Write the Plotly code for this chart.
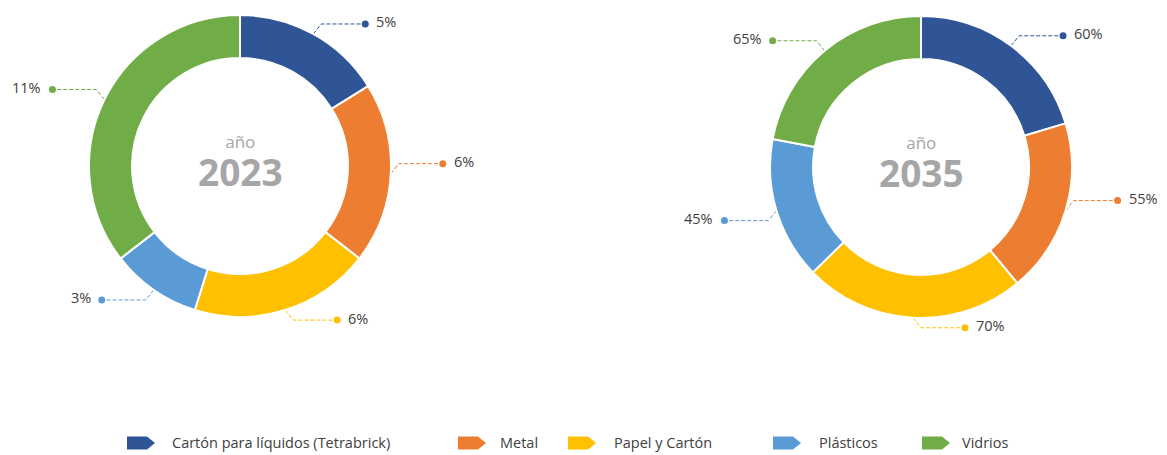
import math
import plotly.graph_objects as go

# ---- data ----
categories = ["Cartón para líquidos (Tetrabrick)", "Metal", "Papel y Cartón", "Plásticos", "Vidrios"]
values_2023 = [5, 6, 6, 3, 11]
values_2035 = [60, 55, 70, 45, 65]
years = ["2023", "2035"]

# ---- style ----
colors = ["#2F5597", "#ED7D31", "#FFC000", "#5B9BD5", "#70AD47"]
W, H = 1167, 455
FONT = "Open Sans"
TXT = "#404040"
GRAY = "#A6A6A6"

# donut geometry in pixels (center x, center y, radius)
donuts = [(240, 166, 151), (921, 167, 151)]
HOLE = 0.715

fig = go.Figure()

# hidden pixel-space axes for leader lines / legend
fig.update_layout(
    xaxis=dict(range=[0, W], visible=False, fixedrange=True, domain=[0, 1]),
    yaxis=dict(range=[H, 0], visible=False, fixedrange=True, domain=[0, 1]),
)

annotations = []
shapes = []

for (cx, cy, r), year, vals in zip(donuts, years, [values_2023, values_2035]):
    fig.add_trace(go.Pie(
        labels=categories, values=vals, hole=HOLE, sort=False,
        direction="clockwise", rotation=0,
        marker=dict(colors=colors, line=dict(color="white", width=2)),
        textinfo="none", hoverinfo="skip", showlegend=False,
        domain=dict(x=[(cx - r) / W, (cx + r) / W], y=[1 - (cy + r) / H, 1 - (cy - r) / H]),
    ))
    # center text (one two-line text block)
    annotations.append(dict(
        x=cx, y=cy - 3, xref="x", yref="y", showarrow=False,
        text="<span style='font-size:17px'>año</span><br><span style='font-size:37px'><b>%s</b></span>" % year,
        font=dict(family=FONT, size=29, color=GRAY)))
    # leader lines and labels computed from slice mid-angles
    total = sum(vals)
    cum = 0
    for v, col in zip(vals, colors):
        theta = math.radians((cum + v / 2) / total * 360)
        cum += v
        s, c = math.sin(theta), math.cos(theta)
        sx = 1 if s > -0.1 else -1
        up = c > (-0.5 if sx > 0 else 0)
        dy = -10 if up else 10
        p0 = (cx + r * s, cy - r * c)
        p1 = (p0[0] + sx * 8, p0[1] + dy)
        p2 = (p1[0] + sx * 44, p1[1])
        fig.add_trace(go.Scatter(x=[p0[0], p1[0], p2[0]], y=[p0[1], p1[1], p2[1]], mode="lines",
                                 line=dict(color=col, width=1, dash="4px,2px"),
                                 hoverinfo="skip", showlegend=False))
        fig.add_trace(go.Scatter(x=[p2[0]], y=[p2[1]], mode="markers",
                                 marker=dict(color=col, size=7),
                                 hoverinfo="skip", showlegend=False))
        annotations.append(dict(x=p2[0] + sx * 9, y=p2[1] - 2, xref="x", yref="y", text="%d%%" % v,
                                showarrow=False, xanchor="left" if sx > 0 else "right",
                                font=dict(family=FONT, size=14.5, color=TXT)))

# ---- custom legend (pentagon arrow markers) ----
legend_marker_x = [127, 458, 568, 773, 922]
legend_text_x = [170, 498, 612, 817, 960]
ly, lh, lw = 443, 13, 28
for cat, col, mx, tx in zip(categories, colors, legend_marker_x, legend_text_x):
    path = "M %f,%f L %f,%f L %f,%f L %f,%f L %f,%f Z" % (
        mx, ly - lh / 2, mx + lw - 8, ly - lh / 2, mx + lw, ly, mx + lw - 8, ly + lh / 2, mx, ly + lh / 2)
    shapes.append(dict(type="path", path=path, xref="x", yref="y", fillcolor=col,
                       line=dict(width=0), layer="above"))
    annotations.append(dict(x=tx, y=ly - 1, xref="x", yref="y", text=cat, showarrow=False,
                            xanchor="left", font=dict(family=FONT, size=14.5, color=TXT)))

fig.update_layout(
    width=W, height=H,
    margin=dict(l=0, r=0, t=0, b=0),
    paper_bgcolor="white", plot_bgcolor="white",
    annotations=annotations, shapes=shapes,
    showlegend=False, hovermode=False,
)

fig.write_html("out.html", config={"displayModeBar": False},
               post_script="document.body.style.margin='0px';document.body.style.overflow='hidden';")
